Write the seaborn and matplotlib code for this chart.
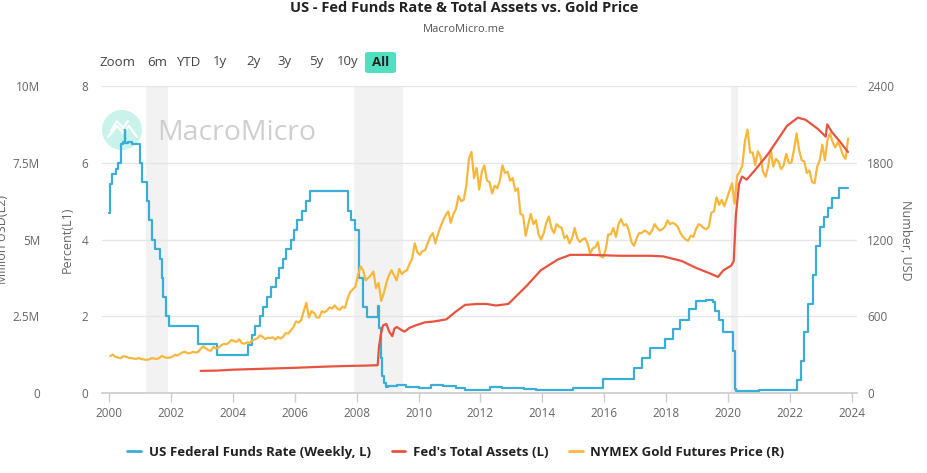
import numpy as np
import pandas as pd
import matplotlib
matplotlib.use('Agg')
import matplotlib.pyplot as plt
import seaborn as sns
from matplotlib.patches import Circle, FancyBboxPatch
from matplotlib.lines import Line2D
from matplotlib.transforms import IdentityTransform

# ---------------- data ----------------
ffr_t = [2000.00, 2000.02, 2000.10, 2000.22, 2000.30, 2000.38, 2000.45, 2000.51, 2000.53, 2000.62, 2000.75,
         2001.00, 2001.08, 2001.22, 2001.30, 2001.38, 2001.48, 2001.64, 2001.71, 2001.76, 2001.85, 2001.95,
         2002.87, 2003.48, 2004.49, 2004.62, 2004.72, 2004.87, 2004.96, 2005.09, 2005.22, 2005.38, 2005.50,
         2005.61, 2005.72, 2005.87, 2005.96, 2006.08, 2006.22, 2006.36, 2006.49, 2007.71, 2007.83, 2007.95,
         2008.06, 2008.08, 2008.21, 2008.33, 2008.68, 2008.71, 2008.77, 2008.82, 2008.88, 2008.95,
         2009.00, 2009.30, 2009.60, 2010.00, 2010.40, 2010.80, 2011.20, 2011.50, 2011.90, 2012.30, 2012.70,
         2013.00, 2013.40, 2013.80, 2014.20, 2014.60, 2015.00, 2015.50, 2015.96, 2016.96, 2017.21, 2017.46,
         2017.96, 2018.22, 2018.46, 2018.74, 2018.97, 2019.30, 2019.50, 2019.58, 2019.72, 2019.83, 2020.00,
         2020.17, 2020.21, 2020.25, 2021.00, 2021.50, 2022.21, 2022.35, 2022.46, 2022.57, 2022.73, 2022.84,
         2022.96, 2023.09, 2023.23, 2023.35, 2023.57, 2023.88]
ffr_v = [4.70, 5.45, 5.70, 5.85, 6.00, 6.50, 6.55, 6.85, 6.52, 6.55, 6.50,
         6.00, 5.50, 5.00, 4.50, 4.00, 3.75, 3.50, 3.00, 2.50, 2.00, 1.75,
         1.28, 1.00, 1.25, 1.50, 1.75, 2.00, 2.25, 2.50, 2.75, 3.00, 3.25,
         3.50, 3.75, 4.00, 4.25, 4.50, 4.75, 5.00, 5.27, 4.75, 4.50, 4.25,
         3.50, 3.00, 2.25, 1.98, 2.27, 1.70, 0.90, 0.45, 0.25, 0.15,
         0.18, 0.22, 0.16, 0.12, 0.20, 0.19, 0.14, 0.09, 0.07, 0.15, 0.14,
         0.14, 0.10, 0.08, 0.07, 0.09, 0.12, 0.13, 0.37, 0.66, 0.91, 1.16,
         1.42, 1.68, 1.91, 2.18, 2.40, 2.43, 2.38, 2.13, 1.90, 1.58, 1.58,
         1.10, 0.10, 0.05, 0.09, 0.08, 0.33, 0.83, 1.58, 2.33, 3.08, 3.83,
         4.33, 4.58, 4.83, 5.08, 5.33, 5.33]

assets_t = [2002.96, 2003.50, 2004.00, 2005.00, 2006.00, 2007.00, 2007.70, 2008.20, 2008.68, 2008.72, 2008.78,
            2008.85, 2008.96, 2009.05, 2009.15, 2009.22, 2009.30, 2009.45, 2009.55, 2009.70, 2009.90, 2010.20,
            2010.50, 2010.90, 2011.20, 2011.50, 2011.90, 2012.20, 2012.50, 2012.90, 2013.20, 2013.50, 2013.95,
            2014.50, 2014.90, 2015.50, 2016.50, 2017.50, 2017.90, 2018.50, 2018.95, 2019.40, 2019.67, 2019.85,
            2020.10, 2020.18, 2020.25, 2020.35, 2020.45, 2020.60, 2020.90, 2021.30, 2021.90, 2022.25, 2022.50,
            2022.90, 2023.15, 2023.20, 2023.35, 2023.60, 2023.87]
assets_v = [720000, 730000, 760000, 790000, 820000, 860000, 880000, 890000, 905000, 1500000, 1900000,
            2200000, 2250000, 2000000, 1850000, 2100000, 2150000, 2050000, 2000000, 2120000, 2200000, 2300000,
            2330000, 2400000, 2650000, 2870000, 2900000, 2900000, 2850000, 2900000, 3200000, 3500000, 4000000,
            4350000, 4500000, 4500000, 4470000, 4470000, 4450000, 4300000, 4080000, 3900000, 3780000, 4000000,
            4150000, 4300000, 5800000, 6800000, 7050000, 6950000, 7300000, 7800000, 8700000, 8970000, 8900000,
            8600000, 8350000, 8750000, 8500000, 8200000, 7850000]

gold_start_year = 2000
gold_price = [
    289, 300, 282, 278, 272, 288, 284, 276, 273, 270, 266, 274,
    266, 262, 260, 262, 272, 270, 266, 274, 290, 280, 275, 277,
    283, 298, 293, 305, 318, 322, 310, 312, 322, 316, 320, 345,
    365, 350, 335, 330, 362, 348, 355, 372, 385, 380, 395, 415,
    405, 400, 420, 390, 385, 395, 392, 410, 418, 428, 450, 440,
    422, 432, 430, 435, 418, 438, 425, 440, 468, 465, 490, 515,
    560, 550, 570, 640, 705, 590, 640, 625, 590, 590, 640, 630,
    645, 670, 660, 685, 660, 650, 675, 665, 740, 790, 810, 830,
    920, 990, 960, 880, 900, 920, 950, 820, 860, 720, 780, 860,
    920, 960, 920, 880, 970, 930, 950, 960, 1010, 1050, 1170, 1100,
    1080, 1110, 1115, 1170, 1220, 1250, 1170, 1240, 1300, 1350, 1390, 1420,
    1330, 1400, 1440, 1540, 1500, 1510, 1620, 1830, 1885, 1680, 1760, 1590,
    1730, 1780, 1660, 1650, 1560, 1620, 1600, 1660, 1780, 1720, 1730, 1660,
    1680, 1580, 1600, 1400, 1390, 1230, 1320, 1400, 1320, 1350, 1240, 1200,
    1250, 1330, 1380, 1290, 1250, 1320, 1300, 1290, 1210, 1230, 1170, 1210,
    1290, 1210, 1180, 1200, 1210, 1170, 1090, 1130, 1140, 1180, 1070, 1060,
    1120, 1240, 1240, 1290, 1220, 1320, 1360, 1310, 1320, 1270, 1180, 1150,
    1210, 1250, 1250, 1270, 1260, 1240, 1270, 1320, 1290, 1270, 1280, 1300,
    1350, 1320, 1330, 1320, 1300, 1250, 1220, 1200, 1190, 1230, 1220, 1280,
    1320, 1310, 1290, 1280, 1300, 1410, 1420, 1530, 1470, 1510, 1460, 1520,
    1580, 1640, 1480, 1700, 1730, 1780, 1970, 2060, 1880, 1880, 1780, 1890,
    1850, 1730, 1690, 1770, 1900, 1770, 1830, 1810, 1750, 1780, 1870, 1800,
    1800, 1900, 2030, 1900, 1820, 1810, 1720, 1740, 1650, 1640, 1770, 1820,
    1940, 1820, 1980, 2030, 1960, 1920, 1960, 1920, 1860, 1830, 1990,
]

recessions = [(2001.20, 2001.90), (2007.92, 2009.50), (2020.10, 2020.33)]

pct_ticks = [0, 2, 4, 6, 8]
l2_ticks = [0, 2.5e6, 5e6, 7.5e6, 10e6]
l2_labels = ['0', '2.5M', '5M', '7.5M', '10M']
usd_ticks = [0, 600, 1200, 1800, 2400]
year_ticks = list(range(2000, 2025, 2))
range_buttons = ['Zoom', '6m', 'YTD', '1y', '2y', '3y', '5y', '10y']

names = ['US Federal Funds Rate (Weekly, L)', "Fed's Total Assets (L)", 'NYMEX Gold Futures Price (R)']
colors = ['#3aaed8', '#e8533f', '#f7b73d']

# ---------------- frames ----------------
ffr_df = pd.DataFrame({'t': ffr_t, 'v': ffr_v})
assets_df = pd.DataFrame({'t': assets_t, 'v': assets_v})
gold_df = pd.DataFrame({'t': [gold_start_year + (i + 0.5) / 12 for i in range(len(gold_price))],
                        'v': gold_price})

# ---------------- figure ----------------
sns.set_theme(style='white')
plt.rcParams['font.family'] = ['Open Sans', 'DejaVu Sans']
W, H = 928, 473
PX = 72 / 100  # points per pixel
fig = plt.figure(figsize=(W / 100, H / 100), dpi=100)
L, R, T, B = 102, 857, 86, 393
ax = fig.add_axes([L / W, 1 - B / H, (R - L) / W, (B - T) / H])
ax_r = ax.twinx()
ax_a = ax.twinx()

grid_c = '#e6e6e6'
tick_c = '#666666'

for a, b in recessions:
    ax.axvspan(a, b, color='#f2f2f2', zorder=0, lw=0)
for y in pct_ticks[1:]:
    ax.axhline(y, color=grid_c, lw=1, zorder=0.5)

# watermark (above shading, below series)
circ = Circle((122, H - 130), 20, transform=IdentityTransform(), facecolor='#c9f3ea', edgecolor='none',
              zorder=0.8, clip_on=False)
ax.add_artist(circ)
wm = [[(108, H - 137), (117, H - 126), (123, H - 133), (129, H - 126), (137, H - 137)],
      [(111, H - 131), (117, H - 121), (123, H - 128), (128, H - 121)]]
for pts in wm:
    xs, ys = zip(*pts)
    ax.add_line(Line2D(xs, ys, transform=IdentityTransform(), color='white', lw=1.6, zorder=0.9,
                       clip_on=False))
ax.text(157 / W, 1 - 133 / H, 'MacroMicro', transform=fig.transFigure, ha='left', va='center',
        fontsize=20.5, color='#cfcfcf', zorder=0.9)

sns.lineplot(data=ffr_df, x='t', y='v', ax=ax, color=colors[0], lw=1.6, drawstyle='steps-post', zorder=3)
sns.lineplot(data=assets_df, x='t', y='v', ax=ax_a, color=colors[1], lw=1.6, zorder=3)
sns.lineplot(data=gold_df, x='t', y='v', ax=ax_r, color=colors[2], lw=1.6, zorder=3)

xl = (2000 - 7 / 30.96, 2024 + 5 / 30.96)
for a in (ax, ax_r, ax_a):
    a.set_xlim(*xl)
    a.set_xlabel('')
    a.set_ylabel('')
    for s in a.spines.values():
        s.set_visible(False)
    a.grid(False)

ax.set_ylim(0, 8)
ax.set_yticks(pct_ticks)
ax.tick_params(axis='y', length=0, pad=14 * PX, labelsize=8.5, labelcolor=tick_c)
ax.spines['bottom'].set_visible(True)
ax.spines['bottom'].set_color('#cccccc')
ax.set_xticks(year_ticks)
ax.set_xticklabels([str(y) for y in year_ticks])
ax.tick_params(axis='x', length=9 * PX, width=1, color='#cccccc', pad=5 * PX, labelsize=8.5,
               labelcolor=tick_c, bottom=True)

ax_a.set_ylim(0, 10e6)
ax_a.yaxis.tick_left()
ax_a.set_yticks(l2_ticks)
ax_a.set_yticklabels(l2_labels)
ax_a.tick_params(axis='y', length=0, pad=62 * PX, labelsize=8.5, labelcolor=tick_c)

ax_r.set_ylim(0, 2400)
ax_r.set_yticks(usd_ticks)
ax_r.tick_params(axis='y', length=0, pad=10 * PX, labelsize=8.5, labelcolor=tick_c)

fig.text(3 / W, 1 - 240 / H, 'Million USD(L2)', rotation=90, ha='center', va='center', fontsize=9, color=tick_c)
fig.text(67 / W, 1 - 240 / H, 'Percent(L1)', rotation=90, ha='center', va='center', fontsize=9, color=tick_c)
fig.text(906 / W, 1 - 240 / H, 'Number, USD', rotation=-90, ha='center', va='center', fontsize=9, color=tick_c)

# title
fig.text(0.5, 1 - 8 / H, 'US - Fed Funds Rate & Total Assets vs. Gold Price', ha='center', va='center',
         fontsize=10.5, fontweight='bold', color='#222222')
fig.text(0.5, 1 - 30 / H, 'MacroMicro.me', ha='center', va='center', fontsize=8, color='#555555')

# range selector
btn_x = [118, 157, 188, 220, 253, 285, 316, 348]
for lab, x in zip(range_buttons, btn_x):
    fig.text(x / W, 1 - 62 / H, lab, ha='center', va='center', fontsize=9.5, color='#444444')
box = FancyBboxPatch((365 / W, 1 - 73 / H), 31 / W, 21 / H, boxstyle='round,pad=0,rounding_size=0.004',
                     transform=fig.transFigure, facecolor='#4fe0bf', edgecolor='none')
fig.patches.append(box)
fig.text(380.5 / W, 1 - 62 / H, 'All', ha='center', va='center', fontsize=9.5, fontweight='bold', color='#222222')

# legend
handles = [Line2D([0], [0], color=c, lw=2) for c in colors]
leg = fig.legend(handles, names, loc='center', bbox_to_anchor=(456 / W, 1 - 452 / H), ncol=3, frameon=False,
                 prop={'weight': 'bold', 'size': 9.5}, handlelength=1.0, handletextpad=0.6, columnspacing=1.6)
for t in leg.get_texts():
    t.set_color('#222222')

fig.savefig('out.png', dpi=100)
